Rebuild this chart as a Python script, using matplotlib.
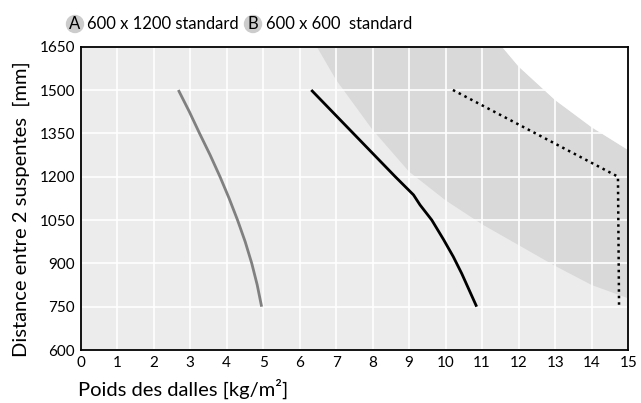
import numpy as np
import matplotlib.pyplot as plt
from matplotlib.patches import Ellipse

plt.rcParams['font.family'] = ['Lato', 'DejaVu Sans']

# données
poids_a = [2.68, 2.98, 3.26, 3.55, 3.82, 4.07, 4.30, 4.51, 4.69, 4.84, 4.96]
dist_a = [1500, 1425, 1350, 1275, 1200, 1125, 1050, 975, 900, 825, 750]

poids_b = [6.32, 7.47, 8.62, 9.12, 9.3, 9.62, 9.94, 10.21, 10.44, 10.85]
dist_b = [1500, 1350, 1200, 1137, 1102, 1050, 983, 923, 865, 750]

poids_lim = [10.2, 14.72, 14.75]
dist_lim = [1500, 1200, 750]

# zone grise (bande)
bande_bas_x = [6.47, 7, 8, 9, 10, 11, 12, 13, 14, 15]
bande_bas_y = [1650, 1535, 1362, 1217, 1118, 1035, 963, 891, 825, 779]
bande_haut_x = [11.54, 12, 13, 14, 15]
bande_haut_y = [1650, 1581, 1465, 1371, 1292]

x_ticks = list(range(0, 16))
y_ticks = [600, 750, 900, 1050, 1200, 1350, 1500, 1650]

fig = plt.figure(figsize=(6.41, 4.03), dpi=100)
ax = fig.add_axes([0.1256, 0.1315, 0.8544, 0.7527])
ax.set_facecolor("#ececec")

# bande grise entre les deux courbes
ax.fill(bande_bas_x + bande_haut_x[::-1] + [bande_haut_x[0]],
        bande_bas_y + bande_haut_y[::-1] + [1650],
        color="#d9d9d9", lw=0, zorder=1)
ax.fill(bande_haut_x + [15], bande_haut_y + [1650], color="white", lw=0, zorder=1)

ax.grid(True, color="white", lw=1.2)
for gl in ax.get_xgridlines() + ax.get_ygridlines():
    gl.set_zorder(2)

ax.plot(poids_a, dist_a, color="#808080", lw=2, zorder=3, solid_capstyle="butt")
ax.plot(poids_b, dist_b, color="black", lw=2, zorder=3, solid_capstyle="butt")
ax.plot(poids_lim, dist_lim, color="black", lw=1.8, ls=(0, (1, 1.6)), zorder=3)

ax.set_xlim(0, 15)
ax.set_ylim(600, 1650)
ax.set_xticks(x_ticks)
ax.set_yticks(y_ticks)
ax.tick_params(length=0, labelsize=11, pad=4)
for s in ax.spines.values():
    s.set_linewidth(1.3)
    s.set_zorder(4)

fig.text(0.122, 0.035, "Poids des dalles [kg/m²]", fontsize=14.5, ha="left", va="center")
fig.text(0.034, 0.48, "Distance entre 2 suspentes  [mm]", fontsize=14.5,
         rotation=90, ha="center", va="center")

# légende en haut
for cx, lettre in [(75, "A"), (253, "B")]:
    fig.patches.append(Ellipse((cx / 641, 1 - 24 / 403), 17 / 641, 17 / 403,
                               transform=fig.transFigure, color="#cccccc"))
    fig.text(cx / 641, 1 - 24 / 403, lettre, fontsize=12, ha="center", va="center")
fig.text(87 / 641, 1 - 24 / 403, "600 x 1200 standard", fontsize=12, ha="left", va="center")
fig.text(266 / 641, 1 - 24 / 403, "600 x 600  standard", fontsize=12, ha="left", va="center")

fig.savefig("out.png", dpi=100)
